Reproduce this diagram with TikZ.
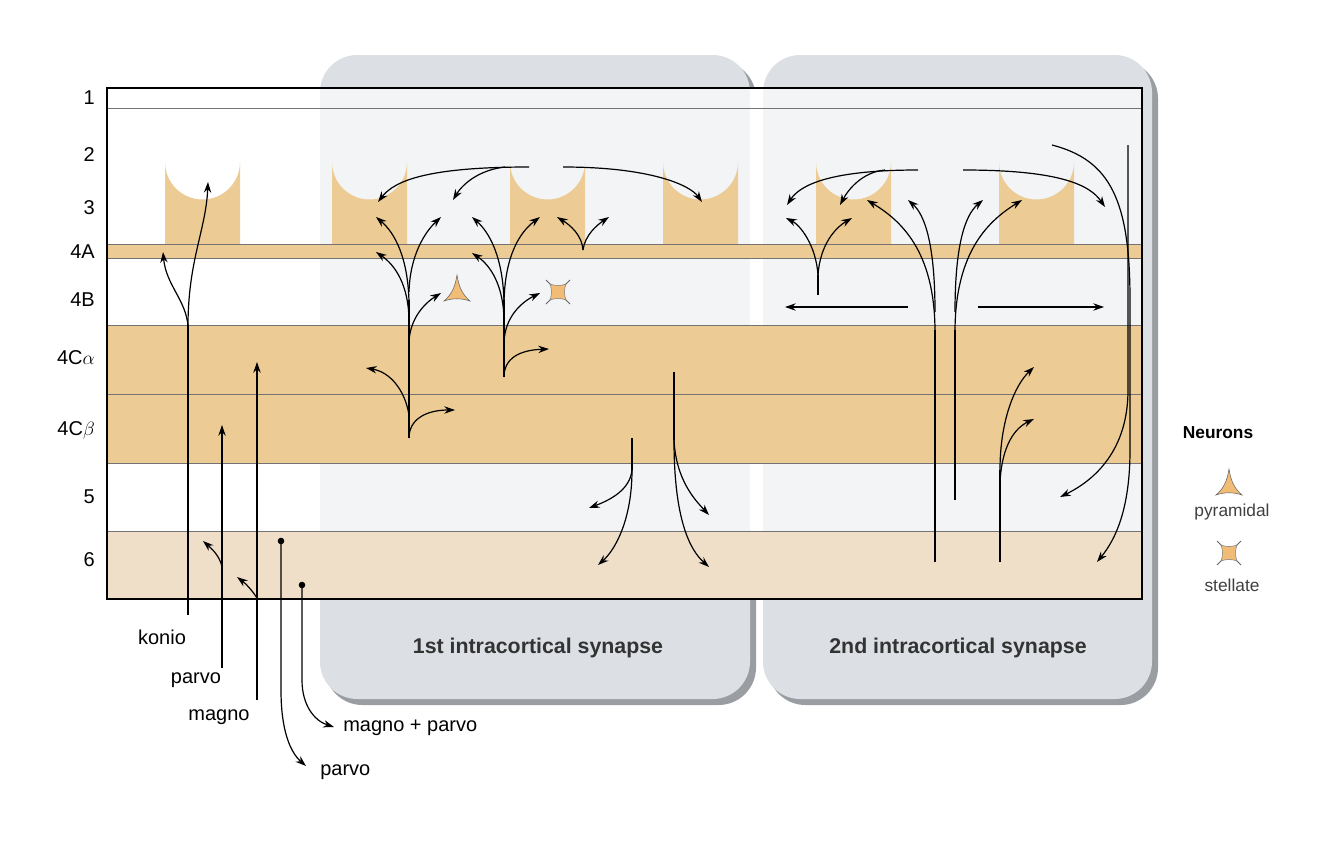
\documentclass[tikz,border=0pt]{standalone}
\usepackage{fontspec}
\setmainfont{Liberation Sans}
\usetikzlibrary{arrows.meta}
\definecolor{tan}{HTML}{ECCB94}
\definecolor{tanl}{HTML}{EFDFC8}
\definecolor{pan}{HTML}{DCDFE3}
\definecolor{panin}{HTML}{F3F4F6}
\definecolor{shad}{HTML}{9A9EA3}
\tikzset{
 ar/.style={line width=0.9pt,-{Stealth[length=8pt,width=5.5pt]}},
 ln/.style={line width=0.9pt},
 lab/.style={font=\fontsize{15}{18}\selectfont,inner sep=0pt},
 plab/.style={font=\fontsize{16}{19}\selectfont\bfseries,inner sep=0pt,text=black!80},
}
\begin{document}
\begin{tikzpicture}[x=0.75pt,y=-0.75pt]
\useasboundingbox (0,0) rectangle (1318,850);
\fill[white] (0,0) rectangle (1318,850);
% panels
\foreach \a/\b in {320/750,763/1152}{
 \fill[shad,rounded corners=28] (\a+5,61) rectangle (\b+6,705);
 \fill[pan,rounded corners=28] (\a,55) rectangle (\b,699);
}
% layers
\fill[white] (107,88) rectangle (1142,599);
\foreach \a/\b in {320/750,763/1142}{\fill[panin] (\a,88) rectangle (\b,599);}
\foreach \x in {165,332,510,663,816,999}{
 \fill[tan] (\x,244) -- (\x,162) arc[start angle=180,end angle=0,radius=37.5] -- (\x+75,244) -- cycle;}
\fill[tan] (107,244) rectangle (1142,258);
\fill[tan] (107,325) rectangle (1142,463);
\fill[tanl] (107,531) rectangle (1142,599);
\foreach \y in {108,244,258,325,394,463,531}{\draw[black!55,line width=0.6pt] (107,\y) -- (1142,\y);}
\draw[line width=1.5pt] (107,88) rectangle (1142,599);
% layer labels
\foreach \t/\y in {1/98,2/155,3/208,4A/252,4B/300,4C$\alpha$/358,4C$\beta$/430,5/497,6/560}{
 \node[lab,anchor=east] (L\y) at (95,\y) {\t};}
% bottom labels
\node[lab] (tkon) at (162,637) {konio};
\node[lab] (tpar) at (196,680) {parvo};
\node[lab] (tmag) at (219,717) {magno};
\node[lab,anchor=west] (tmp) at (343,728) {magno + parvo};
\node[lab,anchor=west] (tp2) at (320,772) {parvo};
\node[plab] (p1) at (538,648) {1st intracortical synapse};
\node[plab] (p2) at (958,648) {2nd intracortical synapse};
% legend
\node[font=\fontsize{13}{15}\selectfont\bfseries,inner sep=0pt] (neu) at (1218,433) {Neurons};
\node[font=\fontsize{13}{15}\selectfont,inner sep=0pt,text=black!75] (pyr) at (1232,512) {pyramidal};
\node[font=\fontsize{13}{15}\selectfont,inner sep=0pt,text=black!75] (ste) at (1232,585) {stellate};
\tikzset{pyramid/.pic={\fill[tan!80!orange,draw=black!60,line width=0.4pt] (0,-18) .. controls (2,-5) and (6,2) .. (13,8) .. controls (4,5) and (-4,5) .. (-13,8) .. controls (-6,2) and (-2,-5) .. cycle;},
 stell/.pic={\draw[black!60,line width=0.7pt] (-12,-12) -- (12,12) (-12,12) -- (12,-12);
  \fill[tan!80!orange,draw=black!50,line width=0.4pt] (-8,-8) .. controls (-3,-6) and (3,-6) .. (8,-8) .. controls (6,-3) and (6,3) .. (8,8) .. controls (3,6) and (-3,6) .. (-8,8) .. controls (-6,3) and (-6,-3) .. cycle;}}
\pic at (1229,487) {pyramid};
\pic at (1229,553) {stell};
\pic at (457,293) {pyramid};
\pic at (558,292) {stell};
% thalamic inputs
\draw[ln] (188,615) -- (188,325);
\draw[ar] (188,326) .. controls (188,260) and (206,230) .. (208,182);
\draw[ar] (188,326) .. controls (186,300) and (166,285) .. (163,252);
\draw[ar] (222,668) -- (222,425);
\draw[ar] (222,567) .. controls (220,556) and (211,548) .. (203,541);
\draw[ar] (257,700) -- (257,362);
\draw[ar] (257,598) .. controls (252,590) and (245,583) .. (237,577);
\fill (281,541) circle (3.3);
\draw[ar] (281,541) -- (281,690) .. controls (281,730) and (290,752) .. (306,766);
\fill (302,585) circle (3.3);
\draw[ar] (302,585) -- (302,680) .. controls (302,706) and (315,721) .. (334,727);
% panel 1
\draw[ln] (409,438) -- (409,300);
\draw[ar] (409,322) .. controls (409,285) and (395,265) .. (376,252);
\draw[ar] (409,302) .. controls (408,258) and (395,233) .. (376,217);
\draw[ar] (409,292) .. controls (410,255) and (425,232) .. (441,217);
\draw[ar] (409,342) .. controls (410,318) and (425,303) .. (441,293);
\draw[ar] (409,438) .. controls (409,420) and (425,410) .. (455,410);
\draw[ar] (409,415) .. controls (405,390) and (390,372) .. (366,368);
\draw[ln] (504,377) -- (504,300);
\draw[ar] (504,377) .. controls (504,358) and (520,350) .. (549,349);
\draw[ar] (504,322) .. controls (504,285) and (490,265) .. (472,253);
\draw[ar] (504,302) .. controls (503,258) and (490,233) .. (472,217);
\draw[ar] (504,302) .. controls (505,255) and (520,232) .. (540,217);
\draw[ar] (504,342) .. controls (505,318) and (520,303) .. (540,293);
\draw[ar] (583,250) .. controls (582,235) and (570,225) .. (557,217);
\draw[ar] (583,250) .. controls (585,235) and (597,225) .. (609,217);
\draw[ar] (529,167) .. controls (430,167) and (395,180) .. (378,202);
\draw[ar] (505,167) .. controls (478,170) and (462,185) .. (453,200);
\draw[ar] (563,167) .. controls (650,167) and (690,185) .. (702,202);
\draw[ln] (674,372) -- (674,440);
\draw[ar] (674,440) .. controls (676,480) and (695,500) .. (709,515);
\draw[ar] (674,440) .. controls (674,520) and (690,550) .. (709,567);
\draw[ln] (632,438) -- (632,470);
\draw[ar] (632,470) .. controls (630,490) and (610,500) .. (589,508);
\draw[ar] (632,470) .. controls (632,520) and (615,550) .. (598,565);
% panel 2
\draw[ar] (918,170) .. controls (830,170) and (800,185) .. (787,205);
\draw[ar] (885,170) .. controls (862,172) and (848,190) .. (840,205);
\draw[ln] (818,295) -- (818,275);
\draw[ar] (818,275) .. controls (816,245) and (800,225) .. (786,218);
\draw[ar] (818,275) .. controls (820,245) and (835,228) .. (852,218);
\draw[ar] (908,307) -- (785,307);
\draw[ar] (978,307) -- (1104,307);
\draw[ar] (963,170) .. controls (1060,170) and (1090,185) .. (1105,207);
\draw[ln] (935,562) -- (935,330);
\draw[ar] (935,332) .. controls (935,250) and (900,220) .. (867,200);
\draw[ar] (935,312) .. controls (935,245) and (925,215) .. (908,200);
\draw[ln] (955,500) -- (955,330);
\draw[ar] (955,312) .. controls (955,245) and (965,215) .. (983,200);
\draw[ar] (955,332) .. controls (955,250) and (990,220) .. (1022,200);
\draw[ln] (1000,562) -- (1000,470);
\draw[ar] (1000,470) .. controls (1000,420) and (1015,385) .. (1034,367);
\draw[ar] (1000,482) .. controls (1002,445) and (1015,428) .. (1034,419);
\draw[ar] (1128,145) -- (1128,390) .. controls (1128,450) and (1095,480) .. (1060,497);
\draw[ar] (1052,145) .. controls (1110,160) and (1130,200) .. (1130,300) -- (1130,450) .. controls (1130,510) and (1115,540) .. (1097,562);
\end{tikzpicture}
\end{document}
